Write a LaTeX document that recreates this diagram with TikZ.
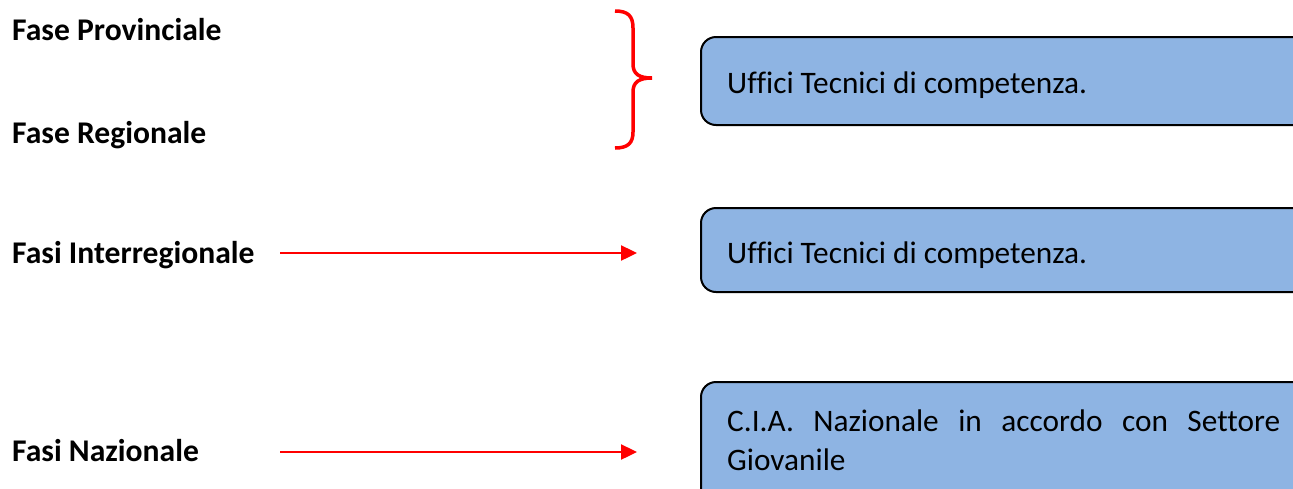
\documentclass[tikz,border=0pt]{standalone}
\usepackage{fontspec}
\setmainfont[Ligatures=NoCommon]{Carlito}
\usetikzlibrary{arrows.meta}
\definecolor{boxblue}{HTML}{8EB4E3}
\definecolor{bred}{HTML}{FF0000}
\tikzset{
  phase/.style={anchor=base west, inner sep=0pt, font=\fontsize{31.6}{38}\selectfont\bfseries},
  infobox/.style={draw=black, line width=2pt, fill=boxblue, rounded corners=15pt},
  boxtext/.style={anchor=base west, inner sep=0pt, font=\fontsize{31.3}{39}\selectfont},
  redarrow/.style={draw=bred, line width=2.4pt, -{Triangle[length=16pt,width=15pt]}},
  brace/.style={draw=bred, line width=3.5pt}
}
\begin{document}
\begin{tikzpicture}[x=1pt,y=-1pt]
\useasboundingbox (0,0) rectangle (1293,488);
\clip (0,0) rectangle (1293,488);
% boxes
\draw[infobox] (701,37) rectangle (1320,125);
\draw[infobox] (701,208) rectangle (1320,292);
\draw[infobox] (701,382) rectangle (1320,520);
% phase labels
\node[phase] (prov) at (12,40) {Fase Provinciale};
\node[phase] (reg) at (12,143) {Fase Regionale};
\node[phase] (inter) at (12,263) {Fasi Interregionale};
\node[phase] (naz) at (12,461) {Fasi Nazionale};
% box texts
\node[boxtext] (t1) at (727,93) {Uffici Tecnici di competenza.};
\node[boxtext] (t2) at (727,263) {Uffici Tecnici di competenza.};
\node[boxtext] (t3a) at (727,431) {\makebox[553pt][s]{C.I.A. Nazionale in accordo con Settore}};
\node[boxtext] (t3b) at (727,470) {Giovanile};
% arrows
\coordinate (a1s) at (280,253);
\coordinate (a1e) at (637,253);
\coordinate (a2s) at (280,452);
\coordinate (a2e) at (637,452);
\draw[redarrow] (a1s) -- (a1e);
\draw[redarrow] (a2s) -- (a2e);
% brace
\draw[brace] (615,11) .. controls (628,11) and (633,16) .. (633,28) -- (633,64)
  .. controls (633,74) and (639,78) .. (652,78)
  .. controls (639,78) and (633,82) .. (633,92) -- (633,132)
  .. controls (633,143) and (628,148) .. (615,148);
\end{tikzpicture}
\end{document}
